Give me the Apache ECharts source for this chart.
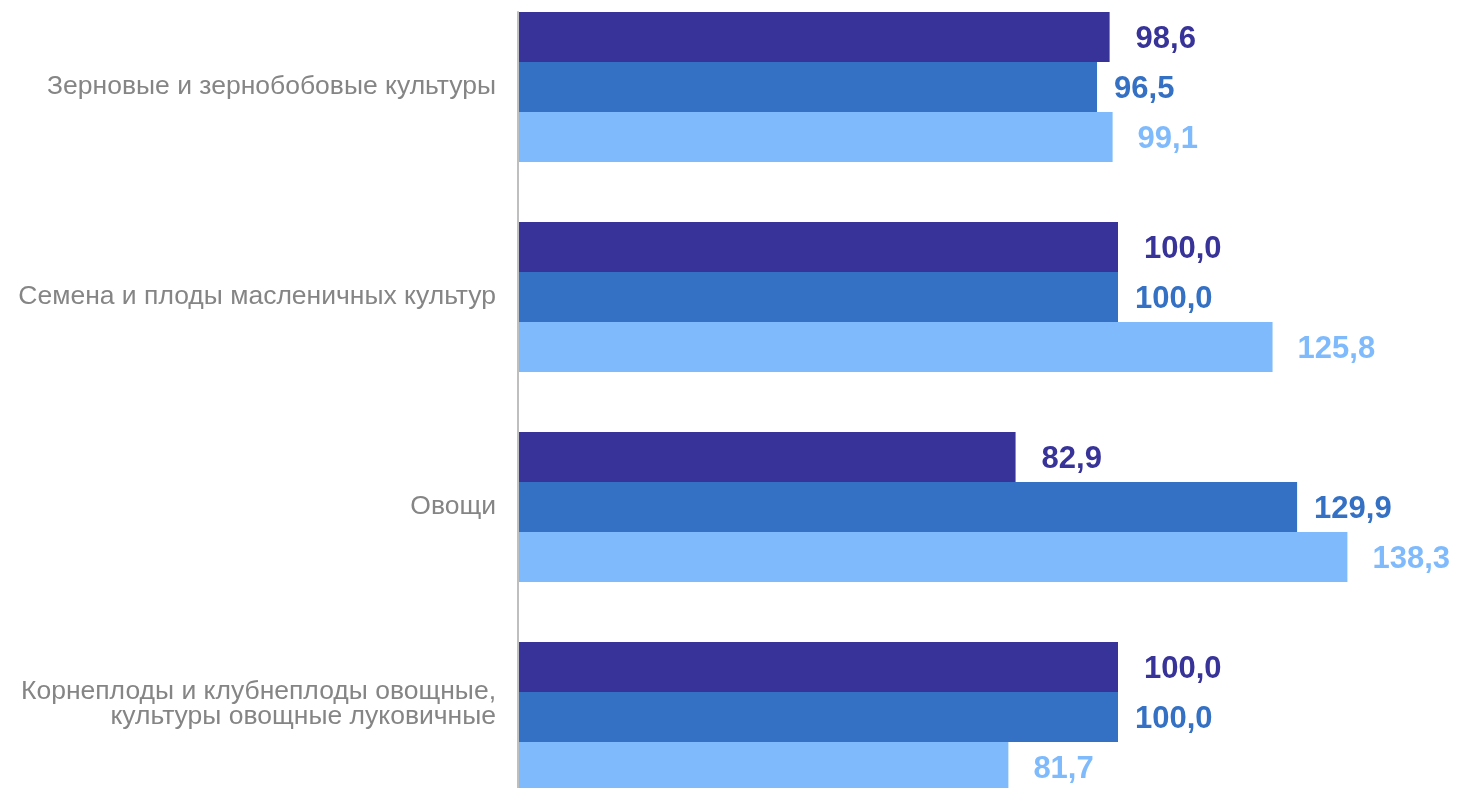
<!DOCTYPE html>
<html>
<head>
<meta charset="utf-8">
<script src="https://cdn.jsdelivr.net/npm/echarts@6/dist/echarts.min.js"></script>
<style>
html,body{margin:0;padding:0;background:#fff;}
#chart{width:1457px;height:788px;}
</style>
</head>
<body>
<div id="chart"></div>
<script>
var categories = [
  'Зерновые и зернобобовые культуры',
  'Семена и плоды масленичных культур',
  'Овощи',
  'Корнеплоды и клубнеплоды овощные,\nкультуры овощные луковичные\n '
];
var seriesA = [98.6, 100.0, 82.9, 100.0];
var seriesB = [96.5, 100.0, 129.9, 100.0];
var seriesC = [99.1, 125.8, 138.3, 81.7];
var seriesColors = ['#373398', '#3471C4', '#7FBBFC'];
var labelDistances = [26, 17, 25];

function fmt(p){ return p.value.toFixed(1).replace('.', ','); }

function makeSeries(data, i){
  return {
    type: 'bar',
    xAxisIndex: 0,
    yAxisIndex: 0,
    data: data,
    barWidth: 50,
    barGap: '0%',
    itemStyle: { color: seriesColors[i] },
    label: {
      show: true,
      position: 'right',
      distance: labelDistances[i],
      offset: [0, 2],
      formatter: fmt,
      color: seriesColors[i],
      fontSize: 31,
      fontWeight: 'bold',
      fontFamily: 'Liberation Sans, Arial, sans-serif'
    },
    animation: false
  };
}

var chart = echarts.init(document.getElementById('chart'));
chart.setOption({
  animation: false,
  backgroundColor: '#ffffff',
  grid: [
    { left: 519, top: -18, width: 898.5, height: 840, containLabel: false, outerBoundsMode: 'none' },
    { left: 518, top: 12, width: 898.5, height: 820, containLabel: false, outerBoundsMode: 'none' }
  ],
  xAxis: [
    { gridIndex: 0, type: 'value', min: 0, max: 150, show: false },
    { gridIndex: 1, type: 'value', min: 0, max: 150, show: false }
  ],
  yAxis: [
    {
      gridIndex: 0,
      type: 'category',
      inverse: true,
      data: categories,
      axisLine: { show: false },
      axisTick: { show: false },
      splitLine: { show: false },
      axisLabel: {
        margin: 23,
        color: '#858585',
        fontSize: 26.5,
        lineHeight: 25,
        align: 'right',
        fontFamily: 'Liberation Sans, Arial, sans-serif'
      }
    },
    {
      gridIndex: 1,
      type: 'value',
      min: 0,
      max: 1,
      axisLine: { show: true, lineStyle: { color: '#BFBFBF', width: 2 } },
      axisTick: { show: false },
      axisLabel: { show: false },
      splitLine: { show: false }
    }
  ],
  series: [
    makeSeries(seriesA, 0),
    makeSeries(seriesB, 1),
    makeSeries(seriesC, 2)
  ]
});
</script>
</body>
</html>
